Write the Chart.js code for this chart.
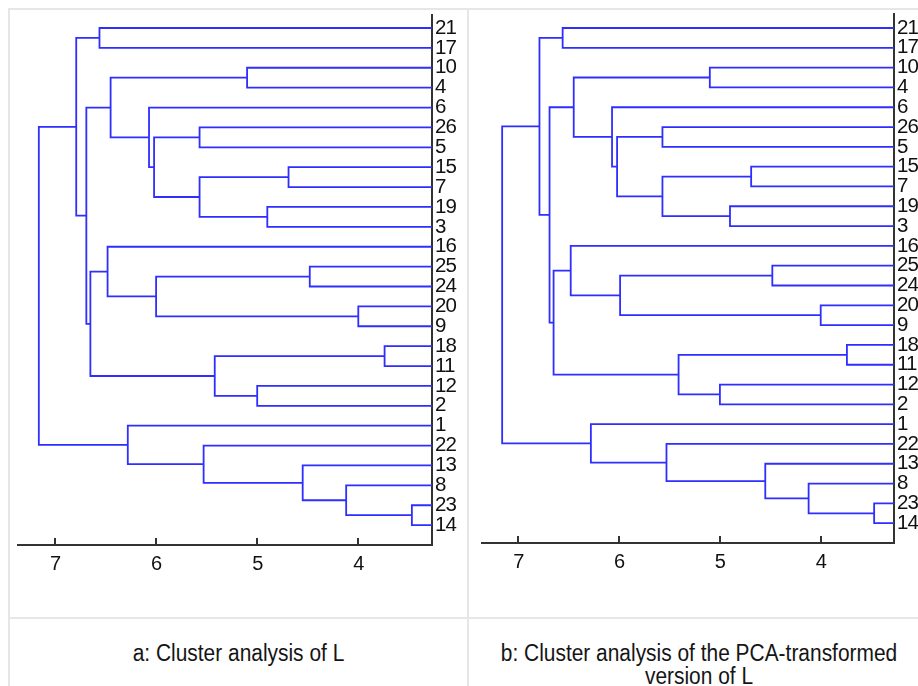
<!DOCTYPE html>
<html><head><meta charset="utf-8">
<script src="https://cdn.jsdelivr.net/npm/chart.js@4.4.1/dist/chart.umd.min.js"></script>
<style>
html,body{margin:0;padding:0;background:#fff;overflow:hidden;width:918px;height:686px;position:relative;font-family:"Liberation Sans",Arial,sans-serif;}
.ln{position:absolute;background:#e6e6e6;}
canvas{position:absolute;}
.cap{position:absolute;text-align:center;font-size:23.5px;line-height:23px;color:#151515;transform:scaleX(0.89);transform-origin:50% 0;white-space:nowrap;}
</style></head><body>
<div class="ln" style="left:8px;top:8px;width:910px;height:2px"></div>
<div class="ln" style="left:8px;top:8px;width:2px;height:678px"></div>
<div class="ln" style="left:467px;top:8px;width:2px;height:678px"></div>
<div class="ln" style="left:8px;top:617px;width:910px;height:2px"></div>
<canvas id="ca" width="457" height="607" style="left:10px;top:10px"></canvas>
<canvas id="cb" width="449" height="607" style="left:469px;top:10px"></canvas>
<div class="cap" style="left:10px;top:642px;width:457px">a: Cluster analysis of L</div>
<div class="cap" style="left:469px;top:642px;width:460px">b: Cluster analysis of the PCA-transformed<br>version of L</div>
<script>
// leaf order (top to bottom)
const leaves = ['21','17','10','4','6','26','5','15','7','19','3','16','25','24','20','9','18','11','12','2','1','22','13','8','23','14'];
// merges: node k = 'n'+k joins mergeLeft[k] and mergeRight[k]
const mergeLeft  = ['21','10','26','15','19','n3','n2','6','n1','25','20','n9','16','18','12','n13','n12','n8','n0','23','8','13','22','1','n18'];
const mergeRight = ['17','4','5','7','3','n4','n5','n6','n7','24','9','n10','n11','11','2','n14','n15','n16','n17','14','n19','n20','n21','n22','n23'];
// merge heights for panel a and b
const heightsA = [6.56,5.10,5.57,4.69,4.90,5.57,6.02,6.07,6.45,4.48,4.00,6.00,6.48,3.74,5.00,5.42,6.65,6.69,6.79,3.47,4.12,4.55,5.53,6.28,7.16];
const heightsB = [6.56,5.10,5.57,4.69,4.90,5.57,6.02,6.07,6.45,4.48,4.00,5.99,6.48,3.74,5.00,5.41,6.65,6.69,6.79,3.47,4.12,4.55,5.53,6.28,7.16];
const xTicks = [7,6,5,4];

const LINE = '#2e2eff';
const AXIS = '#333333';
const TXT = '#111111';
const FONT = '"Liberation Sans", Arial, sans-serif';

function buildDatasets(heights, leafH) {
  const pos = {};
  leaves.forEach((l, i) => { pos[l] = {h: leafH, y: i}; });
  const ds = [];
  heights.forEach((h, k) => {
    const a = pos[mergeLeft[k]], b = pos[mergeRight[k]];
    ds.push({
      data: [{x: a.h, y: a.y}, {x: h, y: a.y}, {x: h, y: b.y}, {x: b.h, y: b.y}],
      showLine: true, borderColor: LINE, borderWidth: 1.8, pointRadius: 0,
      fill: false, tension: 0
    });
    pos['n' + k] = {h: h, y: (a.y + b.y) / 2};
  });
  return ds;
}

const innerTicks = {
  id: 'innerTicks',
  beforeDraw(chart) {
    if ('letterSpacing' in chart.ctx) chart.ctx.letterSpacing = '-1px';
  },
  afterDraw(chart) {
    const s = chart.scales.x, ctx = chart.ctx;
    ctx.save();
    ctx.strokeStyle = AXIS; ctx.lineWidth = 2;
    s.ticks.forEach(t => {
      const px = Math.round(s.getPixelForValue(t.value));
      ctx.beginPath(); ctx.moveTo(px, s.top); ctx.lineTo(px, s.top - 7); ctx.stroke();
    });
    ctx.restore();
  }
};

function makeChart(id, heights, cfg) {
  new Chart(document.getElementById(id), {
    type: 'scatter',
    data: {datasets: buildDatasets(heights, cfg.xMin)},
    options: {
      responsive: false, animation: false, devicePixelRatio: 1,
      layout: {autoPadding: false, padding: {left: cfg.padL, top: cfg.padT, right: 0, bottom: 0}},
      plugins: {legend: {display: false}, tooltip: {enabled: false}},
      scales: {
        x: {
          type: 'linear', position: 'bottom', reverse: true, min: cfg.xMin, max: cfg.xMax,
          grid: {display: false, drawTicks: false},
          border: {display: true, color: AXIS, width: 2},
          afterBuildTicks: s => { s.ticks = xTicks.map(v => ({value: v})); },
          afterFit: s => { s.height = cfg.xH; s.paddingLeft = 0; s.paddingRight = 0; },
          ticks: {autoSkip: false, maxRotation: 0, padding: 9, color: TXT,
            font: {family: FONT, size: 20, lineHeight: 1},
            callback: v => String(v)}
        },
        y: {
          type: 'linear', position: 'right', reverse: true, min: cfg.yMin, max: cfg.yMax,
          grid: {display: false, drawTicks: false},
          border: {display: true, color: AXIS, width: 2},
          afterBuildTicks: s => { s.ticks = leaves.map((_, i) => ({value: i})); },
          afterFit: s => { s.width = cfg.yW; s.paddingTop = 0; s.paddingBottom = 0; },
          ticks: {autoSkip: false, padding: 3, color: TXT, crossAlign: 'near',
            font: {family: FONT, size: 20.5, lineHeight: 1},
            callback: v => leaves[v]}
        }
      }
    },
    plugins: [innerTicks]
  });
}

makeChart('ca', heightsA, {padL: 8, padT: 5, xH: 72, yW: 35, xMin: 3.271, xMax: 7.366, yMin: -0.654, yMax: 26.0});
makeChart('cb', heightsB, {padL: 13, padT: 4, xH: 74, yW: 24, xMin: 3.273, xMax: 7.360, yMin: -0.707, yMax: 26.0});
</script>
</body></html>
